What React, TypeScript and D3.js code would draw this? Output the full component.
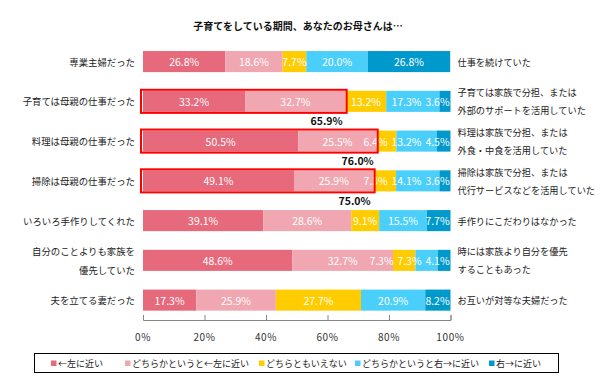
import React, { useRef, useEffect } from 'react';
import * as d3 from 'd3';

const title = '子育てをしている期間、あなたのお母さんは…';
const leftLabels: string[][] = [
  ['専業主婦だった'],
  ['子育ては母親の仕事だった'],
  ['料理は母親の仕事だった'],
  ['掃除は母親の仕事だった'],
  ['いろいろ手作りしてくれた'],
  ['自分のことよりも家族を', '優先していた'],
  ['夫を立てる妻だった'],
];
const rightLabels: string[][] = [
  ['仕事を続けていた'],
  ['子育ては家族で分担、または', '外部のサポートを活用していた'],
  ['料理は家族で分担、または', '外食・中食を活用していた'],
  ['掃除は家族で分担、または', '代行サービスなどを活用していた'],
  ['手作りにこだわりはなかった'],
  ['時には家族より自分を優先', 'することもあった'],
  ['お互いが対等な夫婦だった'],
];
const seriesNames = ['←左に近い', 'どちらかというと←左に近い', 'どちらともいえない', 'どちらかというと右→に近い', '右→に近い'];
const colors = ['#E66A7C', '#F0A7B1', '#FFCC00', '#4ACFFB', '#0099CC'];
const leftNear = [26.8, 33.2, 50.5, 49.1, 39.1, 48.6, 17.3];
const leftSomewhat = [18.6, 32.7, 25.5, 25.9, 28.6, 32.7, 25.9];
const neither = [7.7, 13.2, 6.4, 7.3, 9.1, 7.3, 27.7];
const rightSomewhat = [20.0, 17.3, 13.2, 14.1, 15.5, 7.3, 20.9];
const rightNear = [26.8, 3.6, 4.5, 3.6, 7.7, 4.1, 8.2];
const highlightRows = [1, 2, 3];
const highlightTotals = ['65.9%', '76.0%', '75.0%'];
const xTicks = [0, 20, 40, 60, 80, 100];

const FONT = '"Noto Sans CJK JP", sans-serif';

const App: React.FC = () => {
  const svgRef = useRef<SVGSVGElement | null>(null);

  useEffect(() => {
    if (!svgRef.current) return;
    const width = 600;
    const height = 390;
    const series = [leftNear, leftSomewhat, neither, rightSomewhat, rightNear];
    const rows = d3.range(leftLabels.length);

    const x = d3.scaleLinear().domain([0, 100]).range([143, 450.5]);
    const y = d3.scaleBand<number>()
      .domain(rows)
      .range([41.7, 320])
      .paddingInner(0.47)
      .paddingOuter(0.235);
    const bw = y.bandwidth();

    const svg = d3.select(svgRef.current)
      .attr('width', width)
      .attr('height', height)
      .style('font-family', FONT);
    svg.selectAll('*').remove();

    svg.append('text')
      .attr('x', 298).attr('y', 25)
      .attr('text-anchor', 'middle')
      .attr('dominant-baseline', 'central')
      .attr('font-size', 10)
      .attr('font-weight', 'bold')
      .attr('fill', '#111')
      .text(title);

    // stacked bars
    rows.forEach((r) => {
      const y0 = y(r) as number;
      let acc = 0;
      const segs = series.map((s, i) => {
        const start = acc;
        acc += s[r];
        return { i, start, end: acc, v: s[r] };
      });
      const g = svg.append('g');
      g.selectAll('rect')
        .data(segs)
        .join('rect')
        .attr('x', (d) => x(d.start))
        .attr('y', y0)
        .attr('width', (d) => x(Math.min(d.end, 100)) - x(d.start))
        .attr('height', bw)
        .attr('fill', (d) => colors[d.i]);

      // label placement: center, clamp right edge, push overlaps to the left
      const labels = segs.map((d) => {
        const t = d.v.toFixed(1) + '%';
        const w = t.length * 6;
        return { t, w, cx: (x(d.start) + x(Math.min(d.end, 100))) / 2 };
      });
      let limit = x(100) - 1;
      for (let k = labels.length - 1; k >= 0; k--) {
        const l = labels[k];
        if (l.cx + l.w / 2 > limit) l.cx = limit - l.w / 2;
        limit = l.cx - l.w / 2 - 4;
      }
      g.selectAll('text.val')
        .data(labels)
        .join('text')
        .attr('class', 'val')
        .attr('x', (d) => d.cx)
        .attr('y', y0 + bw / 2)
        .attr('text-anchor', 'middle')
        .attr('dominant-baseline', 'central')
        .attr('font-size', 10.5)
        .attr('fill', '#fff')
        .text((d) => d.t);

      const ll = leftLabels[r];
      ll.forEach((line, k) => {
        svg.append('text')
          .attr('x', 135)
          .attr('y', y0 + bw / 2 + (k - (ll.length - 1) / 2) * 18.5)
          .attr('text-anchor', 'end')
          .attr('dominant-baseline', 'central')
          .attr('font-size', 9.4)
          .attr('fill', '#222')
          .text(line);
      });
      const rl = rightLabels[r];
      rl.forEach((line, k) => {
        svg.append('text')
          .attr('x', 457.5)
          .attr('y', y0 + bw / 2 + (k - (rl.length - 1) / 2) * 18)
          .attr('dominant-baseline', 'central')
          .attr('font-size', 9.2)
          .attr('fill', '#222')
          .text(line);
      });
    });

    // red highlight boxes + totals
    highlightRows.forEach((r, k) => {
      const y0 = y(r) as number;
      const tot = leftNear[r] + leftSomewhat[r];
      svg.append('rect')
        .attr('x', x(0) - 2)
        .attr('y', y0 - 1)
        .attr('width', x(tot) - x(0) + 3)
        .attr('height', bw + 2)
        .attr('fill', 'none')
        .attr('stroke', '#FF0000')
        .attr('stroke-width', 2);
      svg.append('text')
        .attr('x', x(tot) - 3)
        .attr('y', y0 + bw + 9)
        .attr('text-anchor', 'end')
        .attr('dominant-baseline', 'central')
        .attr('font-size', 10.5)
        .attr('font-weight', 'bold')
        .attr('fill', '#111')
        .text(highlightTotals[k]);
    });

    // axis
    const axis = svg.append('g')
      .attr('transform', 'translate(0,320)')
      .call(d3.axisTop(x).tickValues(xTicks).tickSize(5).tickFormat(() => ''));
    axis.select('.domain').attr('stroke', '#868686');
    axis.selectAll('.tick line').attr('stroke', '#868686');
    svg.selectAll('text.tick-label')
      .data(xTicks)
      .join('text')
      .attr('class', 'tick-label')
      .attr('x', (d) => x(d))
      .attr('y', 336)
      .attr('text-anchor', 'middle')
      .attr('dominant-baseline', 'central')
      .attr('font-size', 10)
      .attr('letter-spacing', 0.6)
      .attr('fill', '#333')
      .text((d) => d + '%');

    // legend
    svg.append('rect')
      .attr('x', 34.5).attr('y', 353.5)
      .attr('width', 524).attr('height', 19)
      .attr('fill', '#fff')
      .attr('stroke', '#000')
      .attr('stroke-width', 1);
    const legendX = [51, 125, 259, 355, 489];
    seriesNames.forEach((name, i) => {
      svg.append('rect')
        .attr('x', legendX[i]).attr('y', 360.5)
        .attr('width', 5.5).attr('height', 5.5)
        .attr('fill', colors[i]);
      svg.append('text')
        .attr('x', legendX[i] + 7)
        .attr('y', 363.5)
        .attr('dominant-baseline', 'central')
        .attr('font-size', 9)
        .attr('fill', '#222')
        .text(name);
    });
  }, []);

  return <svg ref={svgRef} style={{ position: 'absolute', left: 0, top: 0 }}></svg>;
};

export default App;
